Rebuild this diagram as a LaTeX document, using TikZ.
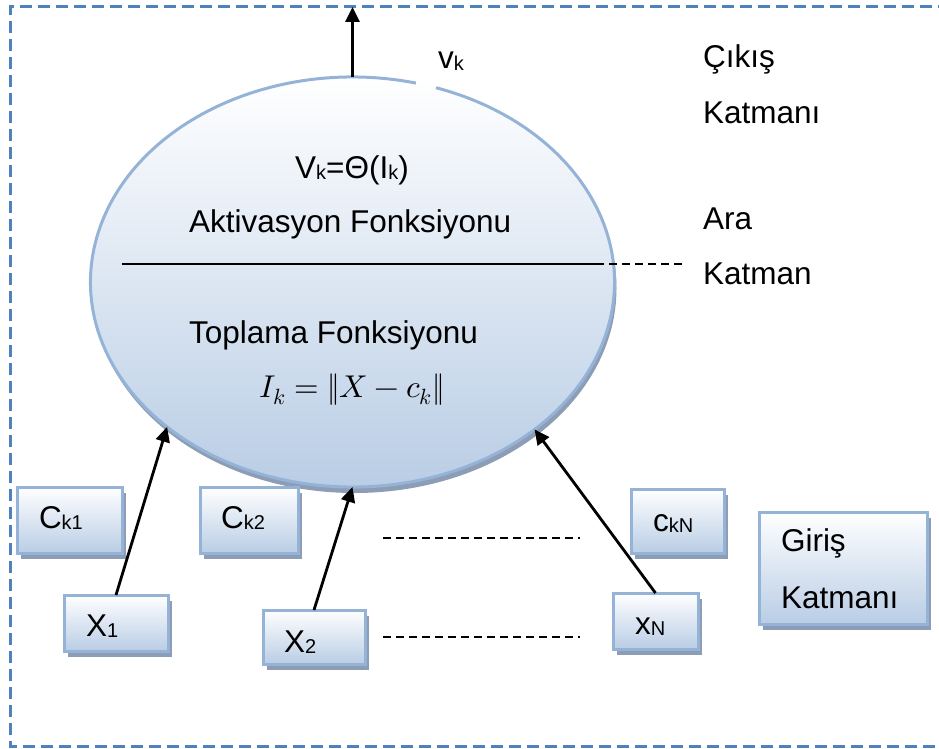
\documentclass[tikz,border=0pt]{standalone}
\usepackage{unicode-math}
\setmainfont{Liberation Sans}
\setmathfont{Latin Modern Math}
\usetikzlibrary{arrows.meta,shadows,shapes.geometric}
\definecolor{bordblue}{RGB}{79,129,189}
\definecolor{edgeblue}{RGB}{149,179,215}
\definecolor{fillblue}{RGB}{185,205,229}
\definecolor{shadowgray}{RGB}{140,157,181}
\newcommand\lsub[1]{\raisebox{-1.5pt}{\fontsize{20}{20}\selectfont #1}}
\begin{document}
\begin{tikzpicture}[x=1pt,y=1pt,
  every node/.style={font=\fontsize{31.5}{38}\selectfont},
  txt/.style={anchor=base west,inner sep=0pt,outer sep=0pt},
  ctxt/.style={anchor=base,inner sep=0pt,outer sep=0pt},
  inbox/.style={rectangle,draw=edgeblue,line width=3pt,top color=white,bottom color=fillblue,
    inner sep=0pt,outer sep=0pt,
    drop shadow={shadow xshift=4pt,shadow yshift=-6pt,fill=shadowgray,opacity=1}},
  conn/.style={line width=2.8pt,-{Triangle[length=15pt,width=14pt]}},
  blackdash/.style={line width=2pt,dash pattern=on 8pt off 5pt},
  frame/.style={draw=bordblue,line width=3pt,dash pattern=on 12pt off 6pt}]
\useasboundingbox (0,0) rectangle (939,-749);
% outer dashed frame
\draw[frame] (950,-7) -- (10,-7) -- (10,-746) -- (950,-746);
% ellipse
\node[ellipse,minimum width=524pt,minimum height=410pt,inner sep=0pt,outer sep=0pt,
  top color=white,bottom color=fillblue,
  drop shadow={shadow xshift=2pt,shadow yshift=-6pt,fill=shadowgray,opacity=1}] (ell) at (352.5,-282) {};
\draw[edgeblue,line width=3pt] (ell.center) ++(76:262 and 205)
  arc[start angle=76,end angle=431.4,x radius=262,y radius=205];
% separator line in ellipse
\coordinate (sepL) at (122,-264);
\coordinate (sepR) at (596,-264);
\coordinate (sepE) at (685,-264);
\draw[line width=2.4pt] (sepL) -- (sepR);
\draw[blackdash] (sepR) -- (sepE);
% texts in ellipse
\node[ctxt] (act) at (352,-178) {V\lsub{k}=Θ(I\lsub{k})};
\node[txt] (aktiv) at (189,-232) {Aktivasyon Fonksiyonu};
\node[txt] (topl) at (189,-343) {Toplama Fonksiyonu};
\node[ctxt] (formula) at (352,-397) {$I_k = \Vert X - c_k\Vert$};
% output arrow
\coordinate (outp) at (352.5,-7);
\draw[conn] (ell.north) -- (outp);
\node[txt] (vk) at (438,-69) {v\lsub{k}};
% layer labels
\node[txt] (cikis) at (703,-68) {Çıkış};
\node[txt] (katm1) at (703,-124) {Katmanı};
\node[txt] (ara) at (703,-229) {Ara};
\node[txt] (katm2) at (703,-284) {Katman};
% input boxes
\node[inbox,minimum width=105pt,minimum height=66pt] (ck1) at (69.5,-520) {};
\node[inbox,minimum width=98pt,minimum height=66pt] (ck2) at (249,-520) {};
\node[inbox,minimum width=93pt,minimum height=64pt] (ckn) at (677.5,-521) {};
\node[inbox,minimum width=104pt,minimum height=56pt] (x1) at (116,-623) {};
\node[inbox,minimum width=102pt,minimum height=54pt] (x2) at (314,-637) {};
\node[inbox,minimum width=85pt,minimum height=56pt] (xn) at (655.5,-621) {};
\node[inbox,minimum width=168pt,minimum height=112pt] (giris) at (843,-568) {};
% box texts
\node[txt] (tck1) at (39,-528) {C\lsub{k1}};
\node[txt] (tck2) at (221,-528) {C\lsub{k2}};
\node[txt] (tckn) at (653,-531) {c\lsub{kN}};
\node[txt] (tx1) at (86,-636) {X\lsub{1}};
\node[txt] (tx2) at (284,-652) {X\lsub{2}};
\node[txt] (txn) at (635,-634) {x\lsub{N}};
\node[txt] (tgiris) at (781,-551) {Giriş};
\node[txt] (tkatm3) at (781,-608) {Katmanı};
% arrows from inputs
\draw[conn] (x1.north) -- (ell.218.4);
\draw[conn] (x2.north) -- (ell.south);
\draw[conn] (xn.north) -- (ell.321.6);
% dashed ellipsis lines
\coordinate (d1a) at (383,-538);
\coordinate (d1b) at (580,-538);
\coordinate (d2a) at (383,-637);
\coordinate (d2b) at (580,-637);
\draw[blackdash] (d1a) -- (d1b);
\draw[blackdash] (d2a) -- (d2b);
\end{tikzpicture}
\end{document}
